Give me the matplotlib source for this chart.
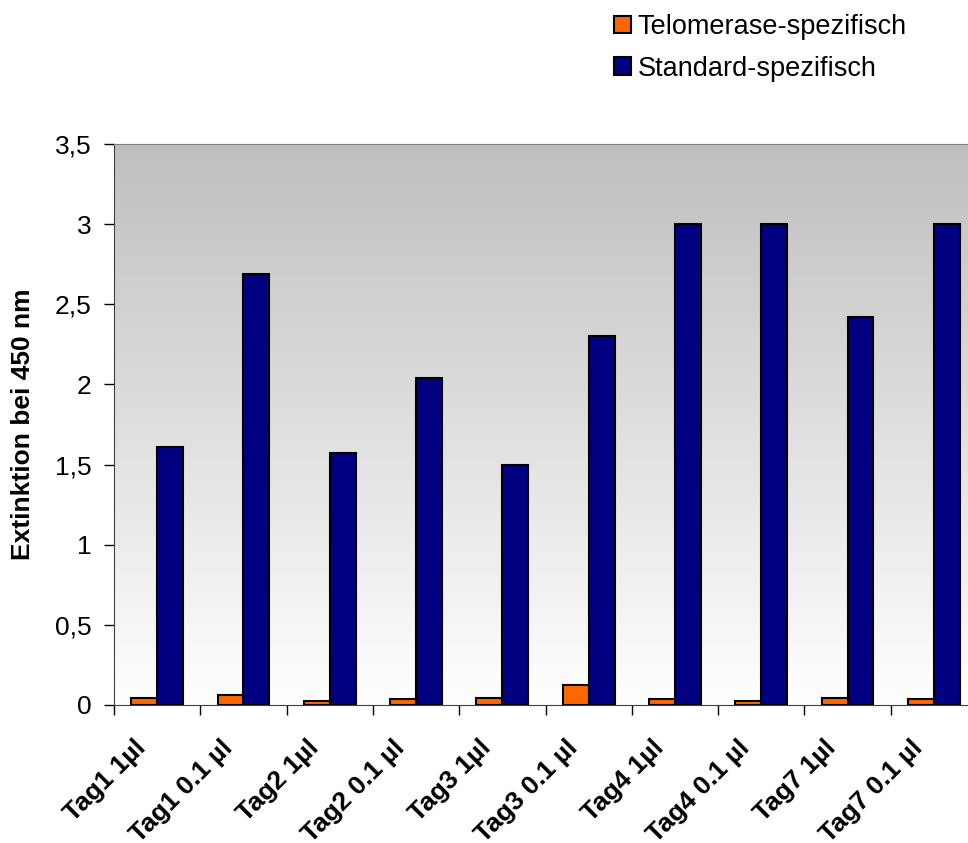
import matplotlib
matplotlib.use("Agg")
import matplotlib.pyplot as plt
import matplotlib.transforms as mtransforms
import numpy as np
from matplotlib.patches import Patch

categories = ["Tag1 1µl", "Tag1 0.1 µl", "Tag2 1µl", "Tag2 0.1 µl", "Tag3 1µl",
              "Tag3 0.1 µl", "Tag4 1µl", "Tag4 0.1 µl", "Tag7 1µl", "Tag7 0.1 µl"]
telomerase = [0.045, 0.065, 0.025, 0.04, 0.045, 0.125, 0.04, 0.025, 0.045, 0.04]
standard = [1.61, 2.69, 1.57, 2.04, 1.50, 2.30, 3.0, 3.0, 2.42, 3.0]
yticks = [0, 0.5, 1, 1.5, 2, 2.5, 3, 3.5]
ytick_labels = ["0", "0,5", "1", "1,5", "2", "2,5", "3", "3,5"]

plt.rcParams['font.family'] = ['Liberation Sans', 'DejaVu Sans']

fig = plt.figure(figsize=(9.68, 8.43), dpi=100)
ax = fig.add_axes([114/968, (843-705)/843, 863/968, (705-144)/843])

n = len(categories)
x = np.arange(n)
w = 0.3
ax.set_xlim(-0.5, n - 0.5)
ax.set_ylim(0, 3.5)

# gradient background
grad = np.linspace(0, 1, 256).reshape(-1, 1)
ax.imshow(grad, extent=(-0.5, n - 0.5, 0, 3.5), aspect='auto', origin='lower',
          cmap=matplotlib.colors.LinearSegmentedColormap.from_list('g', ['#ffffff', '#bfbfbf']),
          zorder=0)

ax.bar(x - w/2, telomerase, width=w, color='#ff6600', edgecolor='black', linewidth=1.5, zorder=3)
ax.bar(x + w/2, standard, width=w, color='#000080', edgecolor='black', linewidth=1.5, zorder=3)

ax.set_yticks(yticks)
ax.set_yticklabels(ytick_labels, fontsize=19)
ax.set_xticks(x)
ax.set_xticklabels(categories, rotation=45, ha='right', va='center', rotation_mode='anchor',
                   fontsize=19, fontweight='bold')
ax.tick_params(axis='x', length=0, pad=28)
offset = mtransforms.ScaledTranslation(-15/100, 0, fig.dpi_scale_trans)
for lbl in ax.get_xticklabels():
    lbl.set_transform(lbl.get_transform() + offset)
ax.set_xticks(np.arange(n + 1) - 0.5, minor=True)
ax.tick_params(axis='x', which='minor', length=7, width=1, color='black')
ax.tick_params(axis='y', length=7, width=1, direction='out', pad=9)

for s in ['top', 'right']:
    ax.spines[s].set_color('#808080')
ax.spines['left'].set_color('#404040')
ax.spines['bottom'].set_color('#404040')

ax.set_ylabel("Extinktion bei 450 nm", fontsize=19, fontweight='bold')
ax.yaxis.set_label_coords(-0.091, 0.5)

handles = [Patch(facecolor='#ff6600', edgecolor='black', linewidth=1.5, label='Telomerase-spezifisch'),
           Patch(facecolor='#000080', edgecolor='black', linewidth=1.5, label='Standard-spezifisch')]
fig.legend(handles=handles, loc='upper left', bbox_to_anchor=(614/968, 1 - 14/843), frameon=False,
           fontsize=19.5, handlelength=0.63, handleheight=0.63, handletextpad=0.25, labelspacing=0.58,
           borderaxespad=0, borderpad=0)

fig.savefig("out.png", dpi=100)
